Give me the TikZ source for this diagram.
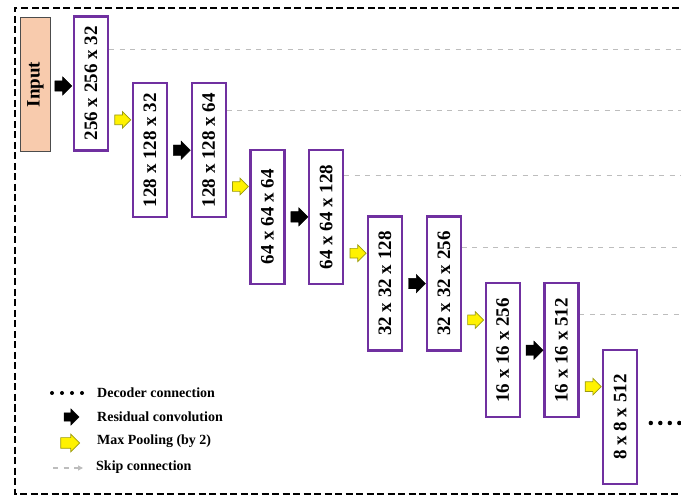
\documentclass[tikz,border=0pt]{standalone}
\usepackage{fontspec}
\setmainfont{Liberation Serif}
\usepackage{graphicx}
\usepackage{tikz}
\usetikzlibrary{calc}
\usetikzlibrary{shapes.arrows}
\usetikzlibrary{arrows.meta}
\tikzset{>=latex}
\usepackage{xcolor}
\definecolor{mypurple}{HTML}{7030A0}
\definecolor{mypeach}{HTML}{F8CBAD}
\definecolor{mygray}{HTML}{BDBDBD}
\definecolor{myolive}{HTML}{9A9A10}
\tikzstyle{layer}=[draw=mypurple,line width=2.2pt,fill=white,minimum width=34pt,minimum height=134pt,inner sep=0pt,font=\fontsize{19}{20}\selectfont\bfseries]
\tikzstyle{inputbox}=[draw=black!70,line width=1.8pt,fill=mypeach,minimum width=30pt,minimum height=134pt,inner sep=0pt,font=\fontsize{19}{20}\selectfont\bfseries]
\tikzstyle{resarrow}=[single arrow,draw=black,fill=black,minimum height=17pt,single arrow head extend=4pt,inner xsep=0pt,inner ysep=5pt]
\tikzstyle{poolarrow}=[single arrow,draw=myolive,fill=yellow,line width=0.7pt,minimum height=16pt,single arrow head extend=3.5pt,inner xsep=0pt,inner ysep=4.5pt]
\tikzstyle{skip}=[mygray,line width=1.1pt,dash pattern=on 5pt off 5.5pt]
\tikzstyle{decoder}=[line width=4.5pt,line cap=round,dash pattern=on 0pt off 9.5pt]
\tikzstyle{frame}=[line width=2pt,dash pattern=on 7pt off 3.5pt]
\tikzstyle{legtext}=[anchor=west,inner sep=0pt,font=\fontsize{14}{15}\selectfont\bfseries]

\begin{document}
\begin{tikzpicture}[x=1pt,y=-1pt]
 \clip (0,0) rectangle (681,497);
 % outer frame
 \draw[frame] (700,8) -- (15,8) -- (15,494) -- (700,494);
 %
 \foreach \Z/\D in {1/34,3/28,5/27,7/32,9/32}
 {\pgfmathsetmacro{\X}{91+58.8*(\Z-1)+18}
 \pgfmathsetmacro{\Y}{83.5+66.7*int(\Z/2)-68+\D}
 \draw[skip] (\X,\Y) coordinate (u\Z) -- ++(650,0) coordinate (s\Z);}
 %
 \node[inputbox] (in) at (35.5,84.5) {\rotatebox{90}{Input}};
 \foreach \Z/\T in {1/256 x 256 x 32,2/128 x 128 x 32,3/128 x 128 x 64,4/64 x 64 x 64,5/64 x 64 x 128,6/32 x 32 x 128,7/32 x 32 x 256,8/16 x 16 x 256,9/16 x 16 x 512,10/8 x 8 x 512}
 {\pgfmathsetmacro{\X}{91+58.8*(\Z-1)}
 \pgfmathsetmacro{\Y}{83.5+66.7*int(\Z/2)}
 \node[layer] (b\Z) at (\X,\Y) {\rotatebox{90}{\T}};}
 %
 \node[resarrow] (r0) at ($(in.east)!0.5!(b1.west)+(-1.5,2)$) {};
 \foreach \Z in {2,4,6,8}
 {\pgfmathtruncatemacro{\N}{\Z+1}
 \node[resarrow] (r\Z) at ($(b\Z.east)!0.5!(b\N.west)$) {};}
 \foreach \Z in {1,3,5,7,9}
 {\pgfmathtruncatemacro{\N}{\Z+1}
 \node[poolarrow] (p\Z) at ($(b\Z.east)!0.5!(b\N.west)+(0,3)$) {};}
 %
 \draw[decoder] ($(b10.east)+(12.5,6)$) coordinate (d0) -- ++(40,0) coordinate (d1);
 % legend
 \draw[decoder,line width=4pt,dash pattern=on 0pt off 10pt] (52,393) coordinate (l0) -- (84,393) coordinate (l1);
 \node[legtext] (t1) at (97,393) {Decoder connection};
 \node[resarrow,minimum height=15pt,inner ysep=4pt] (k1) at (69.5,417) {};
 \node[legtext] (t2) at (97,417) {Residual convolution};
 \node[poolarrow,minimum height=19pt,inner ysep=5pt] (k2) at (67.5,443) {};
 \node[legtext] (t3) at (97,441) {Max Pooling (by 2)};
 \draw[skip,-{Triangle[length=5pt,width=5pt]}] (53,468) coordinate (k3) -- (83,468) coordinate (k4);
 \node[legtext] (t4) at (96,467) {Skip connection};
\end{tikzpicture}
\end{document}
